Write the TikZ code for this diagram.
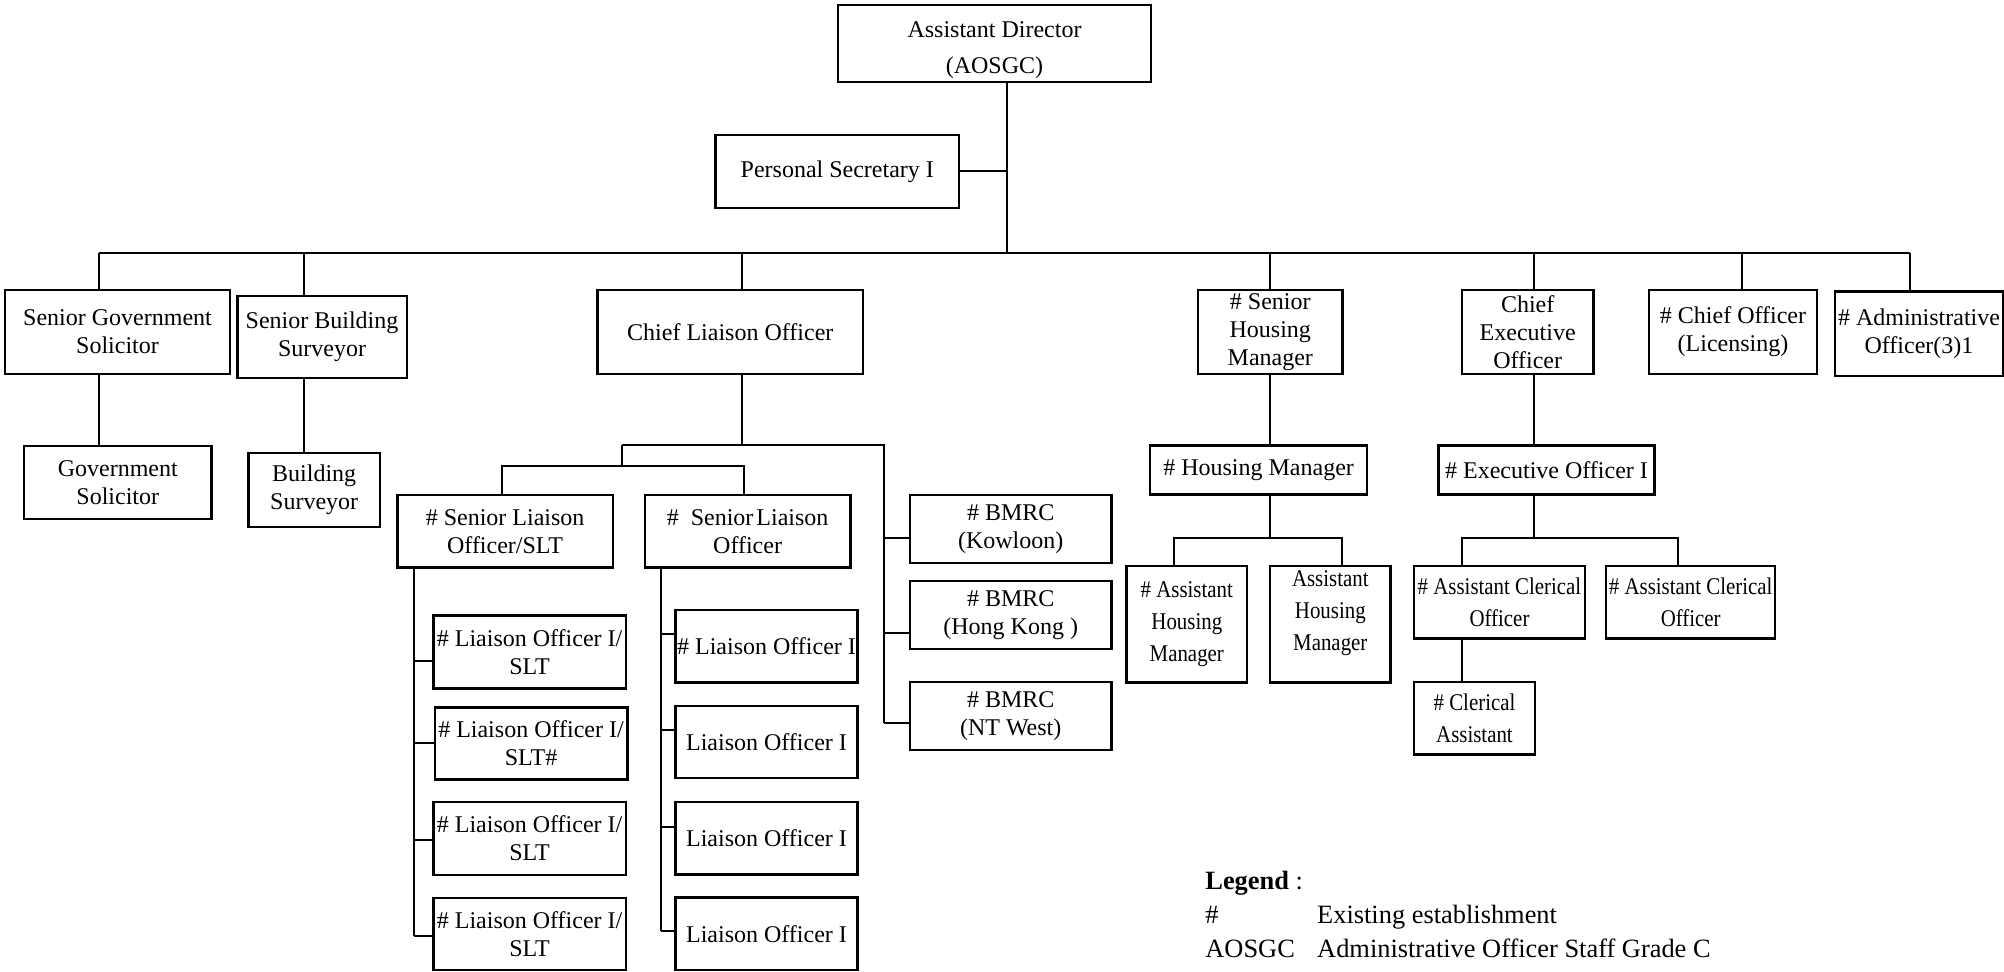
\documentclass[tikz,border=0pt]{standalone}
\usepackage{fontspec}
\setmainfont{Liberation Serif}
\newfontfamily\narrowfont{Liberation Serif}[FakeStretch=0.87]
\usepackage{tikz}
\newcommand{\postfont}{\fontsize{12}{14}\selectfont}
\newcommand{\legendfont}{\fontsize{13.2}{16}\selectfont}

\begin{document}
\begin{tikzpicture}[x=0.5pt, y=-0.5pt,
    post/.style={draw, line width=1.2pt, inner sep=0pt, align=center, font=\postfont},
    narrow/.style={post, font=\narrowfont\fontsize{12}{16}\selectfont},
    boxsize/.style 2 args={minimum width=#1*0.5pt, minimum height=#2*0.5pt},
    link/.style={line width=1pt},
    legend/.style={inner sep=0pt, anchor=base west, font=\legendfont}]
  \useasboundingbox (0,0) rectangle (2004,971);

  % Top of the chart
  \node[post, boxsize={313}{77}] (ad) at (994.5,43.5) {\rule{0pt}{14.7pt}Assistant Director\\[4pt](AOSGC)};
  \node[post, boxsize={243.5}{72.7}] (ps) at (837.3,171.4) {Personal Secretary I};

  % First row
  \node[post, boxsize={225}{84}] (sgs) at (117.5,332) {Senior Government\\Solicitor};
  \node[post, boxsize={169.4}{82}] (sbs) at (322,336.7) {Senior Building\\Surveyor};
  \node[post, boxsize={265.3}{84}] (clo) at (730.3,332) {Chief Liaison Officer};
  \node[post, boxsize={144.7}{84}] (shm) at (1270.3,332) {\# Senior\\Housing\\Manager};
  \node[post, boxsize={131.5}{84}] (ceo) at (1527.7,332) {Chief\\Executive\\Officer};
  \node[post, boxsize={168}{84}] (col) at (1733,332) {\# Chief Officer\\(Licensing)};
  \node[post, boxsize={168}{84.3}] (ao) at (1919,333.8) {\# Administrative\\Officer(3)1};

  % Second row
  \node[post, boxsize={187.7}{73.3}] (gs) at (117.8,482.4) {Government\\Solicitor};
  \node[post, boxsize={131.7}{74}] (bs) at (314.2,489.7) {Building\\Surveyor};
  \node[post, boxsize={215.2}{72.8}] (slos) at (505.1,531.2) {\# Senior Liaison\\Officer/SLT};
  \node[post, boxsize={205.8}{72.8}] (slo) at (747.6,531.2) {\#\ \ Senior\kern1.5pt Liaison\\Officer};
  \node[post, boxsize={201.5}{68.2}] (bmk) at (1010.7,528.9) {\# BMRC\\(Kowloon)};
  \node[post, boxsize={201.5}{68}] (bmh) at (1010.7,615) {\# BMRC\\(Hong Kong )};
  \node[post, boxsize={201.5}{68}] (bmn) at (1010.7,716) {\# BMRC\\(NT West)};
  \node[post, boxsize={216.8}{48.9}] (hm) at (1258.6,470) {\# Housing Manager};
  \node[post, boxsize={216.2}{48.9}] (eo) at (1546.5,470) {\# Executive Officer I};

  % Liaison officers
  \node[post, boxsize={192.6}{72.7}] (los1) at (529.6,652) {\# Liaison Officer I/\\SLT};
  \node[post, boxsize={192.6}{72.1}] (los2) at (531,743.5) {\# Liaison Officer I/\\SLT\#};
  \node[post, boxsize={192.6}{72.7}] (los3) at (529.6,838.4) {\# Liaison Officer I/\\SLT};
  \node[post, boxsize={192.6}{72.1}] (los4) at (529.6,934) {\# Liaison Officer I/\\SLT};
  \node[post, boxsize={182.2}{72.5}] (lo1) at (766.5,646.2) {\# Liaison Officer I};
  \node[post, boxsize={182.2}{72.3}] (lo2) at (766.5,741.9) {Liaison Officer I};
  \node[post, boxsize={182.2}{72.3}] (lo3) at (766.5,838.2) {Liaison Officer I};
  \node[post, boxsize={182.2}{72.5}] (lo4) at (766.5,933.8) {Liaison Officer I};

  % Housing and clerical staff
  \node[narrow, boxsize={120.5}{116.7}] (ahm1) at (1186.8,624.2) {\# Assistant\\Housing\\Manager};
  \node[narrow, boxsize={120.6}{116.7}] (ahm2) at (1330.3,624.2) {Assistant\\Housing\\Manager\rule[-14pt]{0pt}{0pt}};
  \node[narrow, boxsize={170.7}{72.8}] (aco1) at (1499.5,602.2) {\# Assistant Clerical\\Officer};
  \node[narrow, boxsize={168.9}{72.8}] (aco2) at (1690.7,602.2) {\# Assistant Clerical\\Officer};
  \node[narrow, boxsize={120.5}{72.7}] (ca) at (1474.5,718.2) {\# Clerical\\Assistant};

  % Main bus
  \coordinate (hub) at (1007,253);
  \coordinate (busW) at (99,253);
  \coordinate (busE) at (1910,253);
  \draw[link] (ad.south -| hub) -- (hub);
  \draw[link] (ps.east) -- (ps.east -| hub);
  \draw[link, line width=1.2pt] (busW) -- (busE);
  \foreach \n/\x in {sgs/99, sbs/304, clo/741.5, shm/1270, ceo/1534, col/1742, ao/1910}
    \draw[link] (busW -| \x,0) -- (\n.north -| \x,0);
  \foreach \a/\b/\x in {sgs/gs/99, sbs/bs/304, shm/hm/1270, ceo/eo/1534, aco1/ca/1462}
    \draw[link] (\a.south -| \x,0) -- (\b.north -| \x,0);

  % Liaison branch
  \coordinate (cloJ) at (741.5,445);
  \coordinate (sloJ) at (621.6,466);
  \coordinate (bmJ) at (883.5,723);
  \draw[link] (clo.south -| cloJ) -- (cloJ);
  \draw[link] (sloJ |- cloJ) -- (bmJ |- cloJ) -- (bmJ);
  \draw[link] (sloJ |- cloJ) -- (sloJ);
  \draw[link] (slos.north -| 501.8,0) |- (sloJ) -| (slo.north -| 743.9,0);
  \foreach \n/\y in {bmk/538, bmh/633, bmn/723}
    \draw[link] (bmJ |- 0,\y) -- (\n.west |- 0,\y);

  \coordinate (spL) at (414.4,935.8);
  \draw[link] (slos.south -| spL) -- (spL);
  \foreach \n/\y in {los1/661, los2/743.3, los3/840.2, los4/935.8}
    \draw[link] (spL |- 0,\y) -- (\n.west |- 0,\y);
  \coordinate (spR) at (661.3,931.2);
  \draw[link] (slo.south -| spR) -- (spR);
  \foreach \n/\y in {lo1/634.3, lo2/730, lo3/826.5, lo4/931.2}
    \draw[link] (spR |- 0,\y) -- (\n.west |- 0,\y);

  % Housing and executive branches
  \coordinate (hmJ) at (1270,538);
  \draw[link] (hm.south -| hmJ) -- (hmJ);
  \draw[link] (ahm1.north -| 1174.4,0) |- (hmJ) -| (ahm2.north -| 1341.6,0);
  \coordinate (eoJ) at (1534,538);
  \draw[link] (eo.south -| eoJ) -- (eoJ);
  \draw[link] (aco1.north -| 1462,0) |- (eoJ) -| (aco2.north -| 1678.3,0);

  % Legend
  \node[legend] (leg) at (1205,889) {\textbf{Legend} :};
  \node[legend] (legH) at (1205,923) {\#};
  \node[legend] (legHtext) at (1316.8,923) {Existing establishment};
  \node[legend] (legA) at (1205,957) {AOSGC};
  \node[legend] (legAtext) at (1316.8,957) {Administrative Officer Staff Grade C};
\end{tikzpicture}
\end{document}
